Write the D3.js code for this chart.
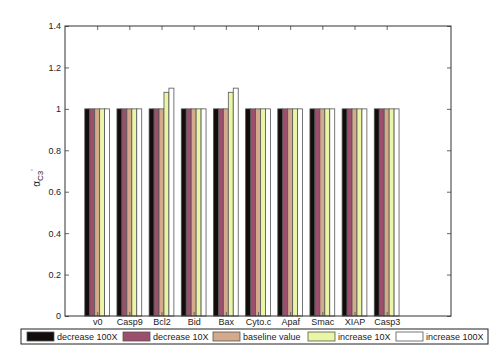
<!DOCTYPE html>
<html>
<head>
<meta charset="utf-8">
<script src="https://cdn.jsdelivr.net/npm/d3@7"></script>
<style>
  body { margin: 0; background: #fff; }
  text { font-family: "Liberation Sans", Arial, sans-serif; fill: #222; }
</style>
</head>
<body>
<svg id="chart" width="498" height="355"></svg>
<script>
"use strict";
// data
var categories = ["v0", "Casp9", "Bcl2", "Bid", "Bax", "Cyto.c", "Apaf", "Smac", "XIAP", "Casp3"];
var seriesNames = ["decrease 100X", "decrease 10X", "baseline value", "increase 10X", "increase 100X"];
var seriesColors = ["#120c0c", "#9c4f6c", "#d4a98c", "#eaf5a6", "#ffffff"];
var dec100 = [1, 1, 1, 1, 1, 1, 1, 1, 1, 1];
var dec10 = [1, 1, 1, 1, 1, 1, 1, 1, 1, 1];
var baseline = [1, 1, 1, 1, 1, 1, 1, 1, 1, 1];
var inc10 = [1, 1, 1.08, 1, 1.08, 1, 1, 1, 1, 1];
var inc100 = [1, 1, 1.1, 1, 1.1, 1, 1, 1, 1, 1];
var yTicks = [0, 0.2, 0.4, 0.6, 0.8, 1, 1.2, 1.4];

var seriesValues = [dec100, dec10, baseline, inc10, inc100];

var svg = d3.select("#chart");
var m = {left: 65, top: 26, right: 451, bottom: 316};

var x = d3.scaleLinear().domain([0, 12]).range([m.left, m.right]);
var y = d3.scaleLinear().domain([0, 1.4]).range([m.bottom, m.top]);
var groupW = (x(1) - x(0)) * 0.77;
var x1 = d3.scaleBand().domain(d3.range(seriesNames.length)).range([-groupW / 2, groupW / 2]);

// bars
var g = svg.append("g");
seriesValues.forEach(function(vals, s) {
  g.selectAll(".s" + s)
    .data(vals)
    .enter()
    .append("rect")
    .attr("class", "s" + s)
    .attr("x", (d, i) => x(i + 1) + x1(s))
    .attr("width", x1.bandwidth())
    .attr("y", d => y(d))
    .attr("height", d => y(0) - y(d))
    .attr("fill", seriesColors[s])
    .attr("stroke", "#555")
    .attr("stroke-width", 0.8);
});

// axes (matlab style, ticks inside)
var tickIdx = d3.range(1, categories.length + 1);
svg.append("g")
  .attr("transform", "translate(0," + m.bottom + ")")
  .call(d3.axisBottom(x).tickValues(tickIdx).tickSize(-4).tickPadding(3)
    .tickFormat(d => categories[d - 1]))
  .call(a => a.select(".domain").remove());
svg.append("g")
  .attr("transform", "translate(0," + m.top + ")")
  .call(d3.axisTop(x).tickValues(tickIdx).tickSize(-4).tickFormat(""))
  .call(a => a.select(".domain").remove());
svg.append("g")
  .attr("transform", "translate(" + m.left + ",0)")
  .call(d3.axisLeft(y).tickValues(yTicks).tickSize(-4).tickPadding(4)
    .tickFormat(d3.format("~g")))
  .call(a => a.select(".domain").remove());
svg.append("g")
  .attr("transform", "translate(" + m.right + ",0)")
  .call(d3.axisRight(y).tickValues(yTicks).tickSize(-4).tickFormat(""))
  .call(a => a.select(".domain").remove());

svg.selectAll(".tick line").attr("stroke", "#666");
svg.selectAll(".tick text").attr("font-size", 9).attr("fill", "#222")
  .style("font-family", "Liberation Sans, Arial, sans-serif");

svg.append("rect")
  .attr("x", m.left).attr("y", m.top)
  .attr("width", m.right - m.left).attr("height", m.bottom - m.top)
  .attr("fill", "none").attr("stroke", "#333").attr("stroke-width", 1);

// y label
var yl = svg.append("text")
  .attr("transform", "translate(40,178) rotate(-90)")
  .attr("text-anchor", "middle")
  .attr("font-size", 10);
yl.append("tspan").text("\u03b1");
yl.append("tspan").attr("font-size", 8).attr("dy", 3).text("C3");
yl.append("tspan").attr("font-size", 8).attr("dy", -7).text("'");

// legend
var leg = svg.append("g");
leg.append("rect")
  .attr("x", 21).attr("y", 329).attr("width", 467).attr("height", 15)
  .attr("fill", "#fff").attr("stroke", "#222").attr("stroke-width", 1);
var legX = [27, 123, 213, 308, 396];
seriesNames.forEach(function(name, s) {
  leg.append("rect")
    .attr("x", legX[s]).attr("y", 332).attr("width", 27).attr("height", 9)
    .attr("fill", seriesColors[s]).attr("stroke", "#555").attr("stroke-width", 0.8);
  leg.append("text")
    .attr("x", legX[s] + 30).attr("y", 340)
    .attr("font-size", 9)
    .text(name);
});
</script>
</body>
</html>
